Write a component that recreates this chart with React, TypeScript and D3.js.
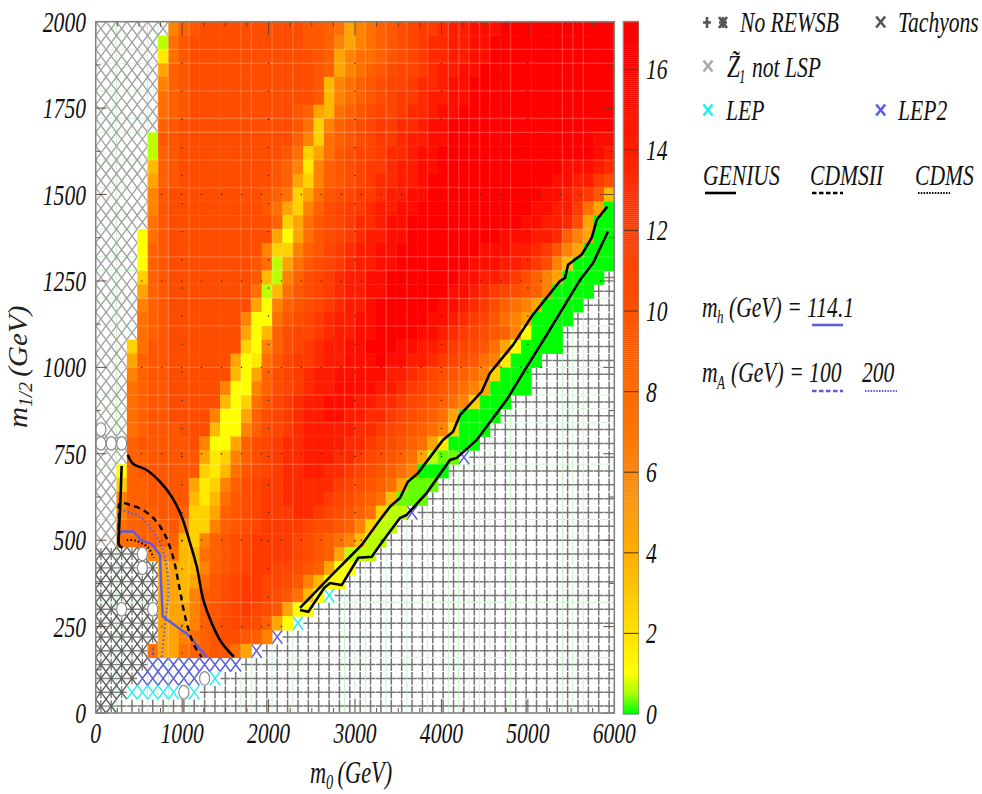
import React from "react";
import * as d3 from "d3";

// Heat-map cells, top row first, 50 columns of 120 GeV, rows of 40 GeV. '.' = no value.
const valueKey: Record<string, number> = {
  A: 0, B: 0.3, C: 0.6, D: 1, E: 1.6, F: 2.5, G: 3.5, H: 4.5, I: 6, J: 7.5,
  K: 8.6, L: 9.5, M: 10.3, N: 11, O: 12, P: 13, Q: 14, R: 15, S: 16, T: 16.9,
};
const heatRows = [
  ".......IKL MMMMMMMMMM LLKJHIJKLM NOOPQQRRRS SSTTTTTTTT",
  "......CJLM MMMMMMMMMM LLKIHIJKLM NOPPQQRRSS STTTTTTTTT",
  "......EJLM MMMMMMMMMM MLKHIJJKLM NOPPQQRRSS STTTTTTTTT",
  "......HKLM MMMMMMMMMM MLKHIJKLMN NOPQQRRSSS TTTTTTTTTT",
  "......IKLM MMMMMMMMMM MLGIJKLMNN OPPQRRSSSS TTTTTTTTTT",
  "......JKLM MMMMMMMMMM MLGIJKLMNO OPQQRRSSST TTTTTTTTTT",
  "......JKLM MMMMMMMMML KHGJKLMNNO PPQRRSSSTT TTTTTTTTTT",
  "......KLMM MMMMMMMMML JFIKLMNOOP PQRRSSSTTT TTTTTTTTSS",
  ".....CLLMM MMMMMMMMMK IFJKLMNOOP QQRRSSSTTT TTTTTTSSRR",
  ".....CKLMM MMMMMMMMLJ FHJLMNNOPP QRRSSSTTTT TTTTTSSSRQ",
  ".....GKLMM MMMMMMMLKI EIKLMNOOPQ QRRSSTTTTT TTTSSRRRQP",
  ".....HKLMM MMMMMMMLKH FIKLMNOPPQ QRSSSTTTTT TTSSRRQQOM",
  ".....ILMMM MMMMMMLKJF HJLMNOOPQQ RRSSTTTTTT TSSRRQPOLG",
  ".....ILMMM MMMMMMLJHF IKMNOOPQQR RSSTTTTTTS SSRRQQOJHA",
  ".....JLMMM MMMMMMMKFH JLMNOPPQRR SSSTTTTTSS SRRQQPMHAA",
  "....DJLMMM MMMMMMMHDH JLMNOPQQRR SSSTTTTSSR RRQQPKIHAA",
  "....DKLMMM MMMMMMIFFI KLNOPQQRRS SSTTTSSRRR QQPOLIHAAA",
  "....DKLMMM MMMMMLJCHJ LMNOPQQRRS SSTTSSRRRQ QPOMIGAAAA",
  "....FKLMMM MMMMMLGCIK MNOPQQRRSS STTSSRRQQP OMKIHAAAA.",
  "....HKLMMM MMMMMJCGJL MNOPQQRRSS TTSSRRQPON MLKIAAAA..",
  "....IKLMMM MMMMMHDIKL MNOPQQRSSS TSSRRQPOMK JIHAAAA...",
  "....JKLMMM MMMMIDDJLM NOPQQRRSSS SSRRQPONLJ IHAAAA....",
  "....JKLMMM MMMMHDGKMN NOPQQRRSSS SRRQPONMLK IDAAA.....",
  "...FJLLMMM MMMMFDIKMN OPQQRRSSSR RQQPONMLJH DAAAA.....",
  "...HKLLMMM MMMHDEJLNO OPQQRRRSRR QQPONMLJIE AAA.......",
  "...IKLLMMM MMMGDHKMNO PQQRRRRRQQ PONMLKJIFA AA........",
  "...JKLLMMM MMIDDIKMNO PQQRRRRQQP ONMLKJIHAA AA........",
  "...JKLLMMM MMGDFJLNOP QQRRRQQPPO NMLKJIFAAA ..........",
  "...JKLLMMM MIDDHKMNOP QQRRQQPPON MLKJHAAAA. ..........",
  "...JKLLLMM MGDDIKMNOP QQQQQPPONM LKJIFAAA.. ..........",
  "...KLLLLLM IDDHKMNOPP QQQQPPONML KJHEAAA... ..........",
  "...KKLLLLL HEFIKMNOPP QQQPPONMLK JHCBB..... ..........",
  "..DKLLLLLL FEGJLMNOPP QQPPONMLKJ IAAA...... ..........",
  "..FKKLLLLH EFIKMNOOPP PPPONMLKJH BBB....... ..........",
  "..IKKLLLLG EGJLMNOOPP PPONMLKJGB BB........ ..........",
  "..IKKKLLKF FHKLMNOOOP PONMLKJFCC .......... ..........",
  "..JKKKKLIF FIKLMNOOOO NMMLKIFCC. .......... ..........",
  "..JJKKKKGF IKLMNOOOON MLKJIGCC.. .......... ..........",
  ".....IIJGG JKLMNOOOON MLKHCCC... .......... ..........",
  "......HHGG IKLMNOONNM LKHDD..... .......... ..........",
  "......HHGH JLMNOONNML IGDD...... .......... ..........",
  "......HHGI KLMNOONMLJ GD........ .......... ..........",
  "......HHHI KLMNONMLHD D......... .......... ..........",
  "......HHHI KLMNNMKHD. .......... .......... ..........",
  "......HHIJ KLMMLKI... .......... .......... ..........",
  ".....JHHJK KLLJH..... .......... .......... ..........",
  ".......... .......... .......... .......... ..........",
  ".......... .......... .......... .......... ..........",
  ".......... .......... .......... .......... ..........",
  ".......... .......... .......... .......... ..........",
];
const nCols = 50;
const nRows = 50;
const colGeV = 120;
const rowGeV = 40;

// Excluded cells as [row-from-top, first col, last col]
const tachyonSpans = [[38, 0, 4], [39, 0, 5], [40, 0, 5], [41, 0, 5], [42, 0, 5], [43, 0, 5], [44, 0, 5], [45, 0, 4], [46, 0, 4], [47, 0, 3], [48, 0, 2], [49, 0, 1]];
const lep2Spans = [[46, 5, 13], [47, 4, 9], [45, 15, 15], [44, 17, 17], [35, 30, 30], [31, 35, 35]];
const lepSpans = [[48, 3, 7], [48, 9, 9], [47, 11, 11], [43, 19, 19], [41, 22, 22]];
const circleCells = [[29, 0], [30, 0], [30, 1], [30, 2], [38, 4], [39, 4], [42, 2], [42, 5], [47, 10], [48, 8]];

// Scan lines (GeV)
const scanM0 = [240, 600, 720, 840, 1080, 1680, 1800, 2040, 2280, 2880, 3000, 3120, 3360, 3600, 3840, 4080, 4200, 4320, 4440, 4560, 4800, 5400, 5520, 5640];
const scanM12 = [160, 320, 560, 720, 840, 880, 920, 1000, 1120, 1200, 1280, 1320, 1400, 1520, 1600, 1680, 1720, 1800, 1880, 1920];

// Contours [m0, m1/2]
const geniusLeg: [number, number][] = [[300, 715], [290, 640], [281, 588], [270, 530], [264, 490], [280, 482], [310, 478]];
const geniusLow: [number, number][] = [[370, 747], [432, 721], [590, 703], [744, 669], [879, 626], [995, 568], [1091, 492], [1169, 424], [1245, 327], [1342, 260], [1458, 203], [1600, 162]];
const cdmsiiLow: [number, number][] = [[262, 500], [270, 560], [281, 608], [397, 602], [547, 587], [686, 559], [802, 515], [894, 452], [952, 385], [1010, 307], [1068, 246], [1149, 191], [1226, 162]];
const cdmsLow: [number, number][] = [[358, 500], [455, 499], [609, 478], [667, 449]];
const ma200Low: [number, number][] = [[281, 588], [512, 567], [724, 501], [813, 434], [840, 347], [802, 260], [764, 162]];
const ma100Low: [number, number][] = [[660, 190], [665, 165]];
const mhLow: [number, number][] = [[262, 483], [262, 515], [300, 525], [435, 525], [532, 499], [648, 489], [744, 457], [755, 385], [775, 279], [1071, 226], [1284, 162]];
const geniusUpper: [number, number][] = [[2364, 298], [2460, 293], [2645, 362], [2711, 376], [2846, 370], [3038, 449], [3193, 452], [3289, 486], [3520, 564], [3598, 573], [3830, 637], [4099, 732], [4177, 738], [4408, 790], [4755, 906], [4967, 993], [5233, 1100], [5604, 1253], [5754, 1302], [5927, 1393]];
const geniusUpper2: [number, number][] = [[2364, 304], [2711, 394], [2962, 457], [3078, 486], [3289, 559], [3405, 597], [3520, 622], [3612, 669], [3729, 694], [4018, 790], [4134, 814], [4215, 862], [4466, 930], [4562, 984], [4828, 1065], [5045, 1148], [5372, 1250], [5430, 1259], [5465, 1297], [5623, 1326], [5739, 1375], [5797, 1427], [5919, 1465]];

const xTicks = [0, 1000, 2000, 3000, 4000, 5000, 6000];
const yTicks = [0, 250, 500, 750, 1000, 1250, 1500, 1750, 2000];
const barTicks = [0, 2, 4, 6, 8, 10, 12, 14, 16];
const barMax = 17.18;
const paletteStops = [0, 0.5, 1, 2, 4, 6, 8, 10, 12, 14, 16, 17.2];
const paletteColors = ["#00ff00", "#aaff00", "#ffff00", "#ffdc00", "#ffaf00", "#ff8200", "#ff6800", "#ff5000", "#ff3a00", "#ff1e00", "#ff0400", "#ff0000"];

const x = d3.scaleLinear().domain([0, 6000]).range([95.7, 614.3]);
const y = d3.scaleLinear().domain([0, 2000]).range([713, 21.7]);
const barY = d3.scaleLinear().domain([0, barMax]).range([714, 21.7]);
const color = d3.scaleLinear<string>().domain(paletteStops).range(paletteColors);

const BLUE = "#5c5ce0";
const FONT = "'Liberation Serif', 'Times New Roman', serif";

function T({ x: tx, y: ty, size = 30, sx = 0.72, anchor, weight, children }: any) {
  return (
    <text transform={`translate(${tx},${ty}) scale(${sx},1)`} fontFamily={FONT} fontStyle="italic" fontSize={size} fontWeight={weight} textAnchor={anchor} fill="#111">
      {children}
    </text>
  );
}

function XMark({ cx, cy, rx, ry, stroke, w = 1.2 }: any) {
  return <path d={`M${cx - rx},${cy - ry}L${cx + rx},${cy + ry}M${cx - rx},${cy + ry}L${cx + rx},${cy - ry}`} stroke={stroke} strokeWidth={w} fill="none" />;
}
function Plus({ cx, cy, rx, ry, stroke, w = 1.2 }: any) {
  return <path d={`M${cx - rx},${cy}L${cx + rx},${cy}M${cx},${cy - ry}L${cx},${cy + ry}`} stroke={stroke} strokeWidth={w} fill="none" />;
}

const cellsOf = (spans: number[][]) => {
  const s = new Set<string>();
  spans.forEach(([t, a, b]) => d3.range(a, b + 1).forEach((c) => s.add(`${t}:${c}`)));
  return s;
};

export default function App() {
  const grid = heatRows.map((r) => r.replace(/ /g, "").padEnd(nCols, "."));
  const tach = cellsOf(tachyonSpans);
  const lep = cellsOf(lepSpans);
  const lep2 = cellsOf(lep2Spans);
  const circ = new Set(circleCells.map(([t, c]) => `${t}:${c}`));
  const cw = x(colGeV) - x(0);
  const ch = y(0) - y(rowGeV);
  const cx = (c: number) => x(colGeV * c + colGeV / 2);
  const cy = (t: number) => y(rowGeV * (nRows - 1 - t) + rowGeV / 2);
  const isHeat = (t: number, c: number) => t >= 0 && t < nRows && c >= 0 && c < nCols && grid[t][c] !== ".";

  const heat: any[] = [];
  const marks: any[] = [];
  grid.forEach((row, t) => {
    const first = row.search(/[A-Z]/);
    row.split("").forEach((ch0, c) => {
      const k = `${t}:${c}`;
      const X0 = x(colGeV * c);
      const Y0 = y(rowGeV * (nRows - t));
      if (ch0 !== ".") {
        heat.push(<rect key={k} x={X0} y={Y0} width={cw + 0.4} height={ch + 0.4} fill={color(valueKey[ch0])} />);
        return;
      }
      const mx = cx(c), my = cy(t);
      if (tach.has(k)) {
        marks.push(<Plus key={"p" + k} cx={mx} cy={my} rx={cw / 2} ry={ch / 2 - 1} stroke="#808080" w={1.4} />);
        marks.push(<XMark key={"x" + k} cx={mx} cy={my} rx={cw / 2} ry={ch / 2} stroke="#5c5c5c" w={1.4} />);
      } else if (lep2.has(k)) {
        marks.push(<XMark key={k} cx={mx} cy={my} rx={cw / 2} ry={ch / 2} stroke={BLUE} w={1.5} />);
      } else if (lep.has(k)) {
        marks.push(<XMark key={k} cx={mx} cy={my} rx={cw / 2} ry={ch / 2} stroke="#22f0f0" w={1.5} />);
      } else if (t <= 37 && (first < 0 || c < first)) {
        marks.push(<XMark key={k} cx={mx} cy={my} rx={cw / 2} ry={ch / 2} stroke="#a4a4a4" w={1.4} />);
      } else if (!circ.has(k)) {
        marks.push(<Plus key={k} cx={mx} cy={my} rx={cw / 2 - 0.3} ry={ch / 2 - 0.6} stroke="#767676" w={1.5} />);
      }
    });
  });

  const scanOverlay: any[] = [];
  scanM0.forEach((g) => {
    const c = g / colGeV;
    d3.range(nRows).forEach((t) => {
      if (isHeat(t, c)) scanOverlay.push(<rect key={`v${g}-${t}`} x={x(g) - 0.7} y={y(rowGeV * (nRows - t))} width={1.4} height={ch + 0.4} fill="#fff" opacity={0.17} />);
    });
  });
  scanM12.forEach((g) => {
    const t = nRows - g / rowGeV;
    d3.range(nCols).forEach((c) => {
      if (isHeat(t, c)) scanOverlay.push(<rect key={`h${g}-${c}`} x={x(colGeV * c)} y={y(g) - 0.7} width={cw + 0.4} height={1.4} fill="#fff" opacity={0.17} />);
    });
  });

  const inHeat = (gx: number, gy: number) => isHeat(nRows - 1 - Math.floor(gy / rowGeV), Math.floor(gx / colGeV));
  const dots: [number, number][] = [];
  d3.range(1, 7).forEach((k) => d3.range(0, 27).forEach((i) => dots.push([532 + 231 * i - 0, 250 * k + 0])));
  d3.range(1, 6).forEach((k) => d3.range(0, 25).forEach((i) => dots.push([1000 * k, 1880 - 81.3 * i])));

  const lineSmooth = d3.line<[number, number]>().x((d) => x(d[0])).y((d) => y(d[1])).curve(d3.curveCatmullRom);
  const lineRaw = d3.line<[number, number]>().x((d) => x(d[0])).y((d) => y(d[1]));

  return (
    <svg width={982} height={794} viewBox="0 0 982 794" style={{ position: "absolute", left: 0, top: 0, background: "#fff" }}>
      <defs>
        <filter id="soft" x="0" y="0" width="1" height="1">
          <feGaussianBlur stdDeviation="0.45" />
        </filter>
      </defs>
      <g filter="url(#soft)">
        {scanM0.map((g) => <line key={g} x1={x(g)} x2={x(g)} y1={y(0)} y2={y(2000)} stroke="#c6f4c6" strokeWidth={1} />)}
        {scanM12.map((g) => <line key={g} x1={x(0)} x2={x(6000)} y1={y(g)} y2={y(g)} stroke="#d4f6d4" strokeWidth={1} />)}
        {marks}
        {heat}
        {scanOverlay}
        {dots.filter((d) => d[0] < 6000 && inHeat(d[0], d[1])).map((d, i) => <circle key={i} cx={x(d[0])} cy={y(d[1])} r={0.8} fill="#333" />)}
        {circleCells.map(([t, c]) => <ellipse key={`${t}-${c}`} cx={cx(c)} cy={cy(t)} rx={5} ry={6.8} fill="#fff" stroke="#8a8a8a" strokeWidth={1.2} />)}

        <path d={lineRaw(mhLow)!} fill="none" stroke={BLUE} strokeWidth={2.4} />
        <path d={lineSmooth(ma200Low)!} fill="none" stroke={BLUE} strokeWidth={2} strokeDasharray="1.6,2.4" />
        <path d={lineRaw(ma100Low)!} fill="none" stroke={BLUE} strokeWidth={2} strokeDasharray="3,2" />
        <path d={lineSmooth(cdmsiiLow)!} fill="none" stroke="#000" strokeWidth={2.4} strokeDasharray="6,4.5" />
        <path d={lineSmooth(cdmsLow)!} fill="none" stroke="#000" strokeWidth={2} strokeDasharray="1.6,2.2" />
        <path d={lineRaw(geniusLeg)!} fill="none" stroke="#000" strokeWidth={2.6} />
        <path d={lineSmooth(geniusLow)!} fill="none" stroke="#000" strokeWidth={2.6} />
        <path d={lineRaw(geniusUpper)!} fill="none" stroke="#000" strokeWidth={2.6} />
        <path d={lineRaw(geniusUpper2)!} fill="none" stroke="#000" strokeWidth={2.6} />

        {/* frame and ticks */}
        {d3.range(0, 6001, 250).map((g) => {
          const len = g % 1000 === 0 ? 14 : 5;
          return (
            <g key={g} stroke="#5a4030" strokeWidth={0.9}>
              <line x1={x(g)} x2={x(g)} y1={y(2000)} y2={y(2000) + len} />
              <line x1={x(g)} x2={x(g)} y1={y(0)} y2={y(0) - len} />
            </g>
          );
        })}
        {d3.range(0, 2001, 125).map((g) => {
          const len = g % 250 === 0 ? 11 : 5;
          return (
            <g key={g} stroke="#5a4030" strokeWidth={0.9}>
              <line x1={x(0)} x2={x(0) + len} y1={y(g)} y2={y(g)} />
              <line x1={x(6000)} x2={x(6000) - len} y1={y(g)} y2={y(g)} />
            </g>
          );
        })}
        <rect x={x(0)} y={y(2000)} width={x(6000) - x(0)} height={y(0) - y(2000)} fill="none" stroke="#7c867c" strokeWidth={1.6} />

        {/* colour bar */}
        {d3.range(0, barMax, 0.05).map((v) => (
          <rect key={v} x={623.3} y={barY(v + 0.05)} width={15.7} height={barY(v) - barY(v + 0.05) + 0.3} fill={color(v)} />
        ))}
        {barTicks.slice(1).map((v) => <line key={v} x1={623.3} x2={639} y1={barY(v)} y2={barY(v)} stroke="#6a3a10" strokeWidth={1.1} />)}
        <rect x={623.3} y={barY(barMax)} width={15.7} height={barY(0) - barY(barMax)} fill="none" stroke="#808a80" strokeWidth={1.2} />
      </g>

      {xTicks.map((v) => <T key={v} x={x(v)} y={743} anchor="middle">{v}</T>)}
      {yTicks.map((v) => <T key={v} x={86} y={y(v) + 10} anchor="end">{v}</T>)}
      {barTicks.map((v) => <T key={v} x={646} y={barY(v) + 10}>{v}</T>)}

      <text transform="translate(310,783) scale(0.72,1)" fontFamily={FONT} fontStyle="italic" fontSize={31} fill="#111">
        m<tspan fontSize={20} dy={6}>0</tspan><tspan dy={-6} dx={6}>(GeV)</tspan>
      </text>
      <text transform="translate(27,428) rotate(-90) scale(1.08,1)" fontFamily={FONT} fontStyle="italic" fontSize={27} fill="#222">
        m<tspan fontSize={18} dy={5}>1/2</tspan><tspan dy={-5} dx={5}>(GeV)</tspan>
      </text>

      {/* legend */}
      <Plus cx={707} cy={22.5} rx={4} ry={5.5} stroke="#555" w={2.6} />
      <XMark cx={723} cy={22.5} rx={4} ry={5.5} stroke="#555" w={2.6} />
      <Plus cx={723} cy={22.5} rx={4} ry={5.5} stroke="#555" w={2.6} />
      <T x={740} y={32}>No REWSB</T>
      <XMark cx={880.7} cy={22} rx={4.5} ry={5.5} stroke="#555" w={2.6} />
      <T x={898} y={32}>Tachyons</T>
      <XMark cx={708} cy={66} rx={4.5} ry={5.5} stroke="#aaa" w={2.6} />
      <T x={727} y={77} size={31} sx={0.75}>{"Z\u0303"}</T>
      <T x={739} y={83} size={18}>1</T>
      <T x={752} y={77}>not LSP</T>
      <XMark cx={708} cy={110} rx={4.5} ry={5.5} stroke="#22f0f0" w={2.6} />
      <T x={726} y={120}>LEP</T>
      <XMark cx={880.7} cy={110} rx={4.5} ry={5.5} stroke={BLUE} w={2.6} />
      <T x={898} y={120}>LEP2</T>

      <T x={703} y={185}>GENIUS</T>
      <T x={810} y={185}>CDMSII</T>
      <T x={915} y={185}>CDMS</T>
      <line x1={705} x2={736} y1={193} y2={193} stroke="#000" strokeWidth={2.6} />
      <line x1={812} x2={843} y1={193} y2={193} stroke="#000" strokeWidth={2.4} strokeDasharray="4.5,2.5" />
      <line x1={918} x2={950} y1={193} y2={193} stroke="#000" strokeWidth={2} strokeDasharray="1.5,1.3" />

      <T x={702} y={317}>m</T>
      <T x={717} y={323} size={18}>h</T>
      <T x={729} y={317}>(GeV) = 114.1</T>
      <line x1={812} x2={843} y1={325} y2={325} stroke={BLUE} strokeWidth={2.6} />
      <T x={702} y={382}>m</T>
      <T x={717} y={389} size={18}>A</T>
      <T x={731} y={382}>(GeV) = 100</T>
      <T x={862} y={382}>200</T>
      <line x1={812} x2={843} y1={391} y2={391} stroke={BLUE} strokeWidth={2.4} strokeDasharray="4.5,2.5" />
      <line x1={865} x2={897} y1={391} y2={391} stroke={BLUE} strokeWidth={2} strokeDasharray="1.5,1.3" />
    </svg>
  );
}
